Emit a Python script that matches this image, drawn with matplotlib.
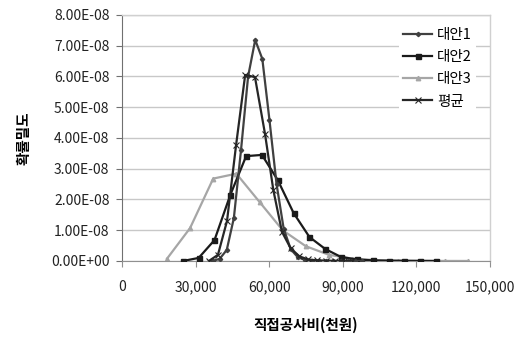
import matplotlib
matplotlib.use("Agg")
import matplotlib.pyplot as plt
from matplotlib.ticker import FuncFormatter, MultipleLocator

plt.rcParams['font.family'] = ['Noto Sans CJK KR', 'DejaVu Sans']

# Data
x1 = [36900, 39800, 42700, 45600, 48500, 51400, 54300, 57200, 60100, 63000, 65900,
      68800, 71700, 74600, 77500, 80400, 83300, 86200, 89100, 92000, 94900, 97800]
y1 = [0.0, 0.07, 0.36, 1.4, 3.6, 6.0, 7.19, 6.57, 4.59, 2.5, 1.05,
      0.38, 0.12, 0.04, 0.015, 0.006, 0.003, 0.002, 0.001, 0.0005, 0.0003, 0.0001]

x2 = [24800, 31250, 37700, 44150, 50600, 57050, 63500, 69950, 76400, 82850, 89300,
      95750, 102200, 108650, 115100, 121550, 128000]
y2 = [0.0, 0.1, 0.68, 2.15, 3.41, 3.45, 2.63, 1.56, 0.78, 0.39, 0.13,
      0.05, 0.02, 0.01, 0.005, 0.003, 0.001]

x3 = [18300, 27740, 37180, 46620, 56060, 65500, 74940, 84380, 93820, 103260,
      112700, 122140, 131580, 141020]
y3 = [0.07, 1.07, 2.68, 2.84, 1.92, 1.0, 0.48, 0.2, 0.08, 0.03,
      0.012, 0.005, 0.002, 0.001]

xa = [35400, 39100, 42800, 46500, 50200, 54200, 58300, 61700, 65200, 68700, 72300,
      75900, 79500, 83100, 86700, 90300, 93900]
ya = [0.0, 0.2, 1.3, 3.77, 6.05, 5.98, 4.13, 2.3, 0.95, 0.42, 0.15,
      0.05, 0.02, 0.008, 0.003, 0.001, 0.0005]

names = ['대안1', '대안2', '대안3', '평균']

fig = plt.figure(figsize=(5.23, 3.38), dpi=100)
ax = fig.add_axes([122/523, 1-261/338, (490-122)/523, (261-15)/338])

scale = 1e-8
ax.plot(x1, [v*scale for v in y1], color='#404040', lw=1.6, marker='D', ms=2.2, label=names[0], zorder=4)
ax.plot(x2, [v*scale for v in y2], color='#1a1a1a', lw=1.6, marker='s', ms=3.6, label=names[1], zorder=3)
ax.plot(x3, [v*scale for v in y3], color='#a6a6a6', lw=1.6, marker='^', ms=3.2, label=names[2], zorder=2)
ax.plot(xa, [v*scale for v in ya], color='#262626', lw=1.6, marker='x', ms=4, mew=0.8, label=names[3], zorder=5)

ax.set_xlim(0, 150000)
ax.set_ylim(0, 8e-8)
ax.xaxis.set_major_locator(MultipleLocator(30000))
ax.yaxis.set_major_locator(MultipleLocator(1e-8))
ax.xaxis.set_major_formatter(FuncFormatter(lambda v, p: f"{int(v):,}"))
ax.yaxis.set_major_formatter(FuncFormatter(lambda v, p: f"{v/1e-8:.2f}E-08" if v > 0 else "0.00E+00"))

ax.grid(axis='y', color='#c8c8c8', lw=1)
ax.set_axisbelow(True)
for s in ['top', 'right']:
    ax.spines[s].set_color('#d0d0d0')
    ax.spines[s].set_linewidth(1)
ax.spines['left'].set_color('#707070')
ax.spines['bottom'].set_color('#909090')
ax.tick_params(axis='y', direction='out', length=4, color='#707070', labelsize=10, pad=5, labelcolor='#222222')
ax.tick_params(axis='x', direction='out', length=4, color='#909090', labelsize=10, pad=10, labelcolor='#222222')

ax.set_xlabel('직접공사비(천원)', fontsize=10.5, fontweight='bold', labelpad=16)
ax.set_ylabel('확률밀도', fontsize=10.5, fontweight='bold', labelpad=14)

leg = ax.legend(loc='upper right', bbox_to_anchor=(0.97, 0.975), frameon=True, fontsize=10.5,
                handlelength=2.0, handletextpad=0.3, labelspacing=0.55, borderpad=0.3,
                borderaxespad=0.2)
leg.get_frame().set_edgecolor('none')
leg.get_frame().set_facecolor('white')
leg.get_frame().set_alpha(1)

fig.savefig('out.png', dpi=100)
